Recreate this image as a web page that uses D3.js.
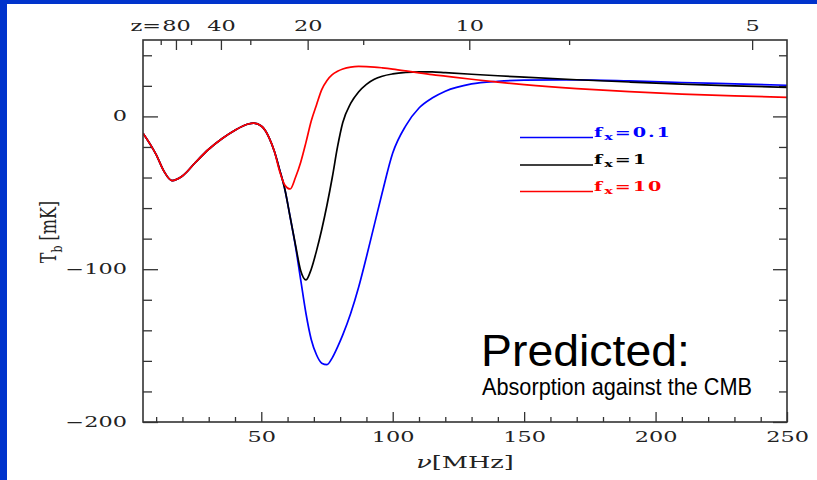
<!DOCTYPE html>
<html lang="en">
<head>
<meta charset="utf-8">
<script src="https://d3js.org/d3.v7.min.js"></script>
<style>
  body {margin:0; background:#fff;}
  svg {display:block;}
  .sm {font-family:"DejaVu Serif", serif; fill:#222;}
  .tick line {stroke:#333; stroke-width:1.3;}
  .note {font-family:"Liberation Sans", Arial, sans-serif; fill:#000;}
</style>
<title>21cm brightness temperature</title>
</head>
<body>
<script>
// frequency grid (MHz) and brightness temperature (mK)
const freq = [5, 8, 10, 13, 16, 20, 25, 30, 35, 40, 45, 47, 50, 53, 55,
              57, 59, 61, 63, 65, 67, 69, 71, 73, 75, 77, 79, 81, 84, 87,
              90, 93, 96, 100, 105, 110, 115, 120, 130, 140, 150, 170, 190, 210, 230, 250];
const fx01 = [-11, -19, -25, -36, -42, -39, -30, -21.5, -14.6, -9, -5, -4.4, -6.3, -14, -23,
              -35, -48, -66, -85, -107, -129, -146, -156, -161.5, -162.5, -158, -151, -143, -129, -112,
              -92, -71, -50, -24, -6, 5.5, 12, 16.5, 21.3, 23, 23.7, 23.9, 23.2, 22.2, 21.3, 20.4];
const fx1  = [-11, -19, -25, -36, -42, -39, -30, -21.5, -14.6, -9, -5, -4.4, -6.3, -14, -23,
              -35, -48, -66, -84, -101, -107, -100, -88, -74, -58, -40, -20, -4, 8.5, 16,
              21, 24.3, 26.3, 27.8, 28.8, 29.2, 29.1, 28.6, 27.6, 26.6, 25.7, 24, 22.5, 21.1, 20, 19];
const fx10 = [-11, -19, -25, -36, -42, -39, -30, -21.5, -14.6, -9, -5, -4.4, -6.3, -14, -23,
              -36, -45, -47.5, -40, -30, -17, -3, 7.5, 17.5, 23.5, 27.3, 29.5, 31, 32.3, 32.7,
              32.6, 32.3, 31.8, 31, 29.8, 28.5, 27.3, 26.3, 24.3, 22.4, 20.8, 18.2, 16.2, 14.6, 13.4, 12.5];

const series = [
  {name:"0.1", color:"#0000ff", values:fx01},
  {name:"1",   color:"#000000", values:fx1},
  {name:"10",  color:"#ff0000", values:fx10}
];

const xMajor = [50, 100, 150, 200, 250];
const xMinor = d3.range(10, 250, 10).filter(d => d % 50 != 0);
const yMajor = [0, -100, -200];
const yMinor = [40, 20, -20, -40, -60, -80, -120, -140, -160, -180];
const zMajor = [80, 40, 20, 10, 5];
const zMinor = [120, 60, 30, 15, 7.5];
const nu21 = 1420.4;

const W = 817, H = 480;
const svg = d3.select("body").append("svg").attr("width", W).attr("height", H);

// slide border
svg.append("rect").attr("width", W).attr("height", 4).attr("fill", "#0033cc");
svg.append("rect").attr("width", 7).attr("height", H).attr("fill", "#0033cc");

const x = d3.scaleLinear().domain([5, 250]).range([143, 787]);
const y = d3.scaleLinear().domain([-200, 50]).range([422, 40]);
const zx = z => nu21 / (1 + z);

// wide supermongo-ish lettering
const stretch = 1.6;
function wideText(sel) {
  sel.attr("class", "sm").style("font-size", "14px")
     .attr("transform", "scale(" + stretch + ",1)");
}

function axisGroup(axis, tx, ty) {
  const g = svg.append("g").attr("transform", "translate(" + tx + "," + ty + ")").call(axis);
  g.select(".domain").remove();
  return g;
}

// bottom
axisGroup(d3.axisBottom(x).tickValues(xMinor).tickSize(-5).tickFormat(""), 0, 422);
const gb = axisGroup(d3.axisBottom(x).tickValues(xMajor).tickSize(-10).tickPadding(10), 0, 422);
gb.selectAll("text").call(wideText);

// top (redshift)
axisGroup(d3.axisTop(x).tickValues(zMinor.map(zx)).tickSize(-5).tickFormat(""), 0, 40);
const gt = axisGroup(d3.axisTop(x).tickValues(zMajor.map(zx)).tickSize(-10).tickPadding(9)
  .tickFormat((d, i) => zMajor[i]), 0, 40);
gt.selectAll("text").call(wideText);
svg.append("text").attr("text-anchor", "end")
  .attr("transform", "translate(" + (x(zx(80)) - 15) + ",31) scale(" + stretch + ",1)")
  .attr("class", "sm").style("font-size", "14px").text("z=");

// left
axisGroup(d3.axisLeft(y).tickValues(yMinor).tickSize(-9).tickFormat(""), 143, 0);
const gl = axisGroup(d3.axisLeft(y).tickValues(yMajor).tickSize(-15)
  .tickFormat(d => d == 0 ? "0" : "\u2212" + Math.abs(d)), 143, 0);
gl.selectAll("text").call(wideText).attr("x", -16 / stretch);

// right
axisGroup(d3.axisRight(y).tickValues(yMinor).tickSize(-8).tickFormat(""), 787, 0);
axisGroup(d3.axisRight(y).tickValues(yMajor).tickSize(-14).tickFormat(""), 787, 0);

// curves
svg.append("clipPath").attr("id", "clip").append("rect")
  .attr("x", 143).attr("y", 40).attr("width", 644).attr("height", 382);

const line = d3.line().x((d, i) => x(freq[i])).y(d => y(d)).curve(d3.curveMonotoneX);

svg.append("g").attr("clip-path", "url(#clip)")
  .selectAll("path").data(series).enter()
  .append("path")
  .attr("d", d => line(d.values))
  .attr("fill", "none")
  .attr("stroke", d => d.color)
  .attr("stroke-width", 1.7);

// frame
svg.append("rect").attr("x", 143).attr("y", 40).attr("width", 644).attr("height", 382)
  .attr("fill", "none").attr("stroke", "#333").attr("stroke-width", 1.6);

// legend
const legend = svg.append("g").selectAll("g").data(series).enter().append("g")
  .attr("transform", (d, i) => "translate(520," + [137.5, 165, 191.5][i] + ")");
legend.append("line").attr("x1", 0).attr("x2", 73)
  .attr("stroke", d => d.color).attr("stroke-width", 1.3);
const lt = legend.append("text")
  .attr("transform", "translate(74,-1) scale(" + stretch + ",1)")
  .attr("class", "sm")
  .style("font-size", "12px").style("font-weight", "bold").style("letter-spacing", "1.2px")
  .style("fill", d => d.color);
lt.append("tspan").text("f");
lt.append("tspan").attr("dy", 3).style("font-size", "9px").text("x");
lt.append("tspan").attr("dy", -3).text(d => "=" + d.name);

// axis titles
const yt = svg.append("text").attr("class", "sm").style("font-size", "16px")
  .attr("text-anchor", "middle")
  .attr("transform", "translate(56,232) scale(1.4,1) rotate(-90)");
yt.append("tspan").text("T");
yt.append("tspan").attr("dy", 4).style("font-size", "11px").text("b");
yt.append("tspan").attr("dy", -4).text(" [mK]");

const xt = svg.append("text").attr("class", "sm").style("font-size", "16px")
  .attr("text-anchor", "middle")
  .attr("transform", "translate(465,468) scale(" + stretch + ",1)");
xt.append("tspan").style("font-style", "italic").text("\u03bd");
xt.append("tspan").text("[MHz]");

// annotation
svg.append("text").attr("class", "note").attr("x", 481).attr("y", 366)
  .style("font-size", "45px").attr("textLength", 209).attr("lengthAdjust", "spacingAndGlyphs")
  .text("Predicted:");
svg.append("text").attr("class", "note").attr("x", 482).attr("y", 395)
  .style("font-size", "24px").attr("textLength", 270).attr("lengthAdjust", "spacingAndGlyphs")
  .text("Absorption against the CMB");
</script>
</body>
</html>
